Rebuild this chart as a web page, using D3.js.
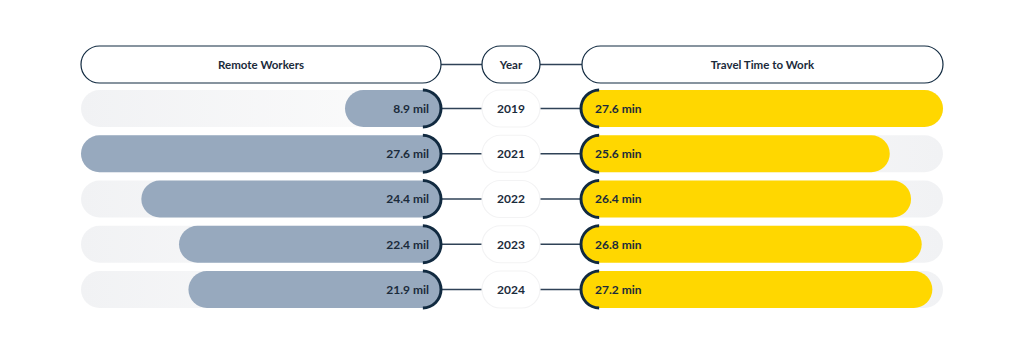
<!DOCTYPE html>
<html>
<head>
<meta charset="utf-8">
<script src="https://cdn.jsdelivr.net/npm/d3@7"></script>
<style>
  html, body { margin: 0; padding: 0; background: #ffffff; }
  svg { display: block; }
  text { font-family: "Lato", "Inter", "DejaVu Sans", sans-serif; font-weight: 700; fill: #1b2b3b; }
</style>
</head>
<body>
<svg id="chart" width="1024" height="356"></svg>
<script>
const years = ["2019", "2021", "2022", "2023", "2024"];
const remoteWorkers = [8.9, 27.6, 24.4, 22.4, 21.9];
const travelTime = [27.6, 25.6, 26.4, 26.8, 27.2];
const headers = ["Remote Workers", "Year", "Travel Time to Work"];

const navy = "#112a40";
const lineCol = "#2f4257";
const slate = "#97a9be";
const yellow = "#ffd700";
const barH = 37, r = barH / 2;

const leftX0 = 81, leftX1 = 441;
const midX0 = 482, midX1 = 540;
const rightX0 = 581, rightX1 = 943;
const headerY = 64.5;

const svg = d3.select("#chart");

const defs = svg.append("defs");
const gL = defs.append("linearGradient").attr("id", "trackL").attr("x1", "0").attr("x2", "1");
gL.append("stop").attr("offset", "0").attr("stop-color", "#f1f2f4");
gL.append("stop").attr("offset", "1").attr("stop-color", "#fcfcfc");
const gR = defs.append("linearGradient").attr("id", "trackR").attr("x1", "0").attr("x2", "1");
gR.append("stop").attr("offset", "0").attr("stop-color", "#fbfbfb");
gR.append("stop").attr("offset", "1").attr("stop-color", "#f1f2f4");

const y = d3.scalePoint().domain(years).range([108.5, 289.5]);

const xL = d3.scaleLinear().domain([8.5, 27.6]).range([0, leftX1 - leftX0]);
const minBar = 96;
const xR = d3.scaleLinear().domain([14, 27.6]).range([0, rightX1 - rightX0]);

const hdr = [
  {t: headers[0], x0: leftX0, x1: leftX1},
  {t: headers[1], x0: midX0, x1: midX1},
  {t: headers[2], x0: rightX0 + 1, x1: rightX1}
];
svg.append("line").attr("x1", leftX1).attr("x2", midX0).attr("y1", headerY).attr("y2", headerY)
  .attr("stroke", lineCol).attr("stroke-width", 1.3);
svg.append("line").attr("x1", midX1).attr("x2", rightX0 + 1).attr("y1", headerY).attr("y2", headerY)
  .attr("stroke", lineCol).attr("stroke-width", 1.3);
hdr.forEach(h => {
  svg.append("rect").attr("x", h.x0).attr("y", headerY - r).attr("width", h.x1 - h.x0).attr("height", barH)
    .attr("rx", r).attr("fill", "#fff").attr("stroke", navy).attr("stroke-width", 1.2);
  svg.append("text").attr("x", (h.x0 + h.x1) / 2).attr("y", headerY).attr("dy", "0.36em")
    .attr("text-anchor", "middle").attr("font-size", 11.5).text(h.t);
});

const rows = years.map((yr, i) => ({yr, rw: remoteWorkers[i], tt: travelTime[i]}));
const arc = d3.arc().innerRadius(r - 1.5).outerRadius(r + 1.5);

const g = svg.selectAll("g.row").data(rows).join("g").attr("class", "row")
  .attr("transform", d => `translate(0,${y(d.yr)})`);

g.append("line").attr("x1", leftX1).attr("x2", midX0).attr("y1", 0).attr("y2", 0)
  .attr("stroke", lineCol).attr("stroke-width", 1.3);
g.append("line").attr("x1", midX1).attr("x2", rightX0).attr("y1", 0).attr("y2", 0)
  .attr("stroke", lineCol).attr("stroke-width", 1.3);

g.append("rect").attr("x", leftX0).attr("y", -r).attr("width", leftX1 - leftX0).attr("height", barH)
  .attr("rx", r).attr("fill", "url(#trackL)");
g.append("rect").attr("x", rightX0).attr("y", -r).attr("width", rightX1 - rightX0).attr("height", barH)
  .attr("rx", r).attr("fill", "url(#trackR)");

g.append("rect")
  .attr("x", d => leftX1 - Math.max(minBar, xL(d.rw)))
  .attr("y", -r).attr("width", d => Math.max(minBar, xL(d.rw))).attr("height", barH)
  .attr("rx", r).attr("fill", slate);
g.append("rect").attr("x", rightX0).attr("y", -r).attr("width", d => xR(d.tt)).attr("height", barH)
  .attr("rx", r).attr("fill", yellow);

g.append("path").attr("transform", `translate(${leftX1 - r},0)`)
  .attr("d", arc({startAngle: 0.02, endAngle: Math.PI - 0.02})).attr("fill", navy);
g.append("path").attr("transform", `translate(${rightX0 + r},0)`)
  .attr("d", arc({startAngle: Math.PI + 0.02, endAngle: 2 * Math.PI - 0.02})).attr("fill", navy);

g.append("rect").attr("x", midX0).attr("y", -r).attr("width", midX1 - midX0).attr("height", barH)
  .attr("rx", r).attr("fill", "#fff").attr("stroke", "#f3f3f4").attr("stroke-width", 1.2);
g.append("text").attr("x", (midX0 + midX1) / 2).attr("y", 0).attr("dy", "0.36em")
  .attr("text-anchor", "middle").attr("font-size", 12).text(d => d.yr);

g.append("text").attr("x", leftX1 - 12).attr("y", 0).attr("dy", "0.36em")
  .attr("text-anchor", "end").attr("font-size", 12).text(d => `${d.rw} mil`);
g.append("text").attr("x", rightX0 + 14).attr("y", 0).attr("dy", "0.36em")
  .attr("text-anchor", "start").attr("font-size", 12).text(d => `${d.tt} min`);
</script>
</body>
</html>
